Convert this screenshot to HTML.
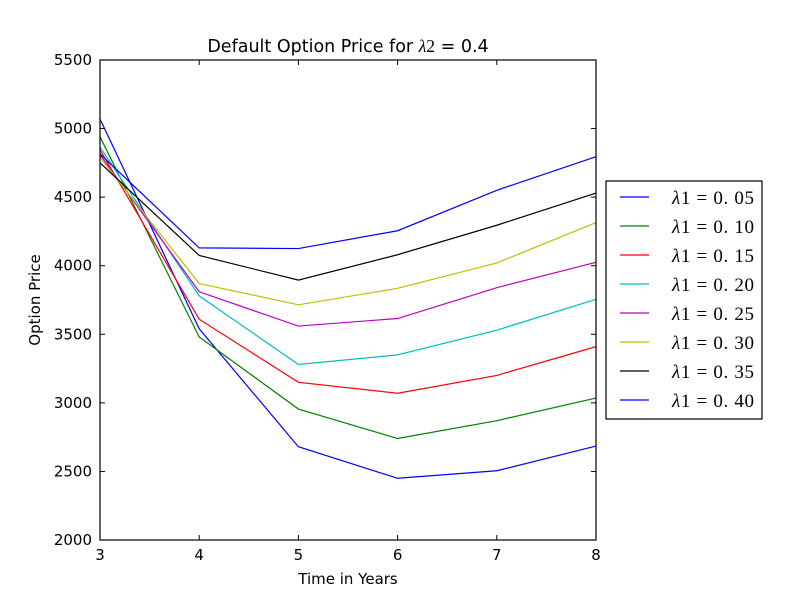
<!DOCTYPE html>
<html><head><meta charset="utf-8"><style>
body{margin:0;background:#fff;}
svg text{font-family:"DejaVu Sans","Liberation Sans",sans-serif;fill:#000;}
.m{font-family:"Liberation Serif","DejaVu Serif",serif;}
</style></head><body>
<svg id="c" width="800" height="600" xmlns="http://www.w3.org/2000/svg"></svg>
<script>
const years=[3,4,5,6,7,8];
const labels=["0.05","0.10","0.15","0.20","0.25","0.30","0.35","0.40"];
const colors=["#0000ff","#008000","#ff0000","#00bfbf","#bf00bf","#bfbf00","#000000","#0000ff"];
const s005=[5070,3540,2680,2450,2505,2685];
const s010=[4940,3480,2955,2740,2870,3035];
const s015=[4845,3610,3150,3070,3200,3410];
const s020=[4865,3780,3280,3350,3530,3755];
const s025=[4810,3810,3560,3615,3840,4025];
const s030=[4790,3870,3715,3835,4020,4315];
const s035=[4750,4075,3895,4080,4295,4530];
const s040=[4815,4130,4125,4255,4550,4795];
const series=[s005,s010,s015,s020,s025,s030,s035,s040];
const yTicks=[2000,2500,3000,3500,4000,4500,5000,5500];
const xTicks=[3,4,5,6,7,8];
const L=100,R=596,T=60,B=540;
const xs=v=>L+(v-3)/5*(R-L);
const ys=v=>B-(v-2000)/3500*(B-T);
const svg=document.getElementById('c');
const NS="http://www.w3.org/2000/svg";
function mk(tag,attrs,parent){const e=document.createElementNS(NS,tag);for(const k in attrs)e.setAttribute(k,attrs[k]);(parent||svg).appendChild(e);return e;}
series.forEach((s,i)=>{
  const p=mk('polyline',{points:s.map((v,j)=>xs(years[j])+','+ys(v)).join(' '),fill:'none',stroke:colors[i],'stroke-width':1.2});
  
  
});
const fr=mk('rect',{x:L,y:T,width:R-L,height:B-T,fill:'none',stroke:'#000','stroke-width':1.2});


yTicks.forEach(v=>{
  const y=ys(v);
  mk('line',{x1:L,x2:L+5,y1:y,y2:y,stroke:'#000'});
  mk('line',{x1:R,x2:R-5,y1:y,y2:y,stroke:'#000'});
  const t=mk('text',{x:L-8,y:y+5,'text-anchor':'end','font-size':15});
  t.textContent=v;
  
  
});
xTicks.forEach(v=>{
  const x=xs(v);
  mk('line',{x1:x,x2:x,y1:B,y2:B-5,stroke:'#000'});
  mk('line',{x1:x,x2:x,y1:T,y2:T+5,stroke:'#000'});
  const t=mk('text',{x:x,y:B+20,'text-anchor':'middle','font-size':15});
  t.textContent=v;
  
  
});
const ti=mk('text',{x:348,y:52,'text-anchor':'middle','font-size':17.5});
ti.innerHTML='Default Option Price for <tspan class="m" font-style="italic">λ</tspan><tspan class="m">2</tspan> = 0.4';


const xt=mk('text',{x:348,y:584,'text-anchor':'middle','font-size':15});
xt.textContent='Time in Years';


const yt=mk('text',{x:40,y:300,'text-anchor':'middle','font-size':15,transform:'rotate(-90 40 300)'});
yt.textContent='Option Price';


const lg=mk('rect',{x:606,y:181,width:156,height:238,fill:'#fff',stroke:'#000','stroke-width':1.2});


labels.forEach((lb,i)=>{
  const y=197+i*29;
  const ln=mk('line',{x1:620,x2:649,y1:y,y2:y,stroke:colors[i],'stroke-width':1.2});
  
  
  const t=mk('text',{x:672,y:y+7,'font-size':19,class:'m',textLength:82,lengthAdjust:'spacing'});
  t.innerHTML='<tspan font-style="italic">λ</tspan>1 = 0. '+lb.slice(2);
  
  
});
</script>
</body></html>
